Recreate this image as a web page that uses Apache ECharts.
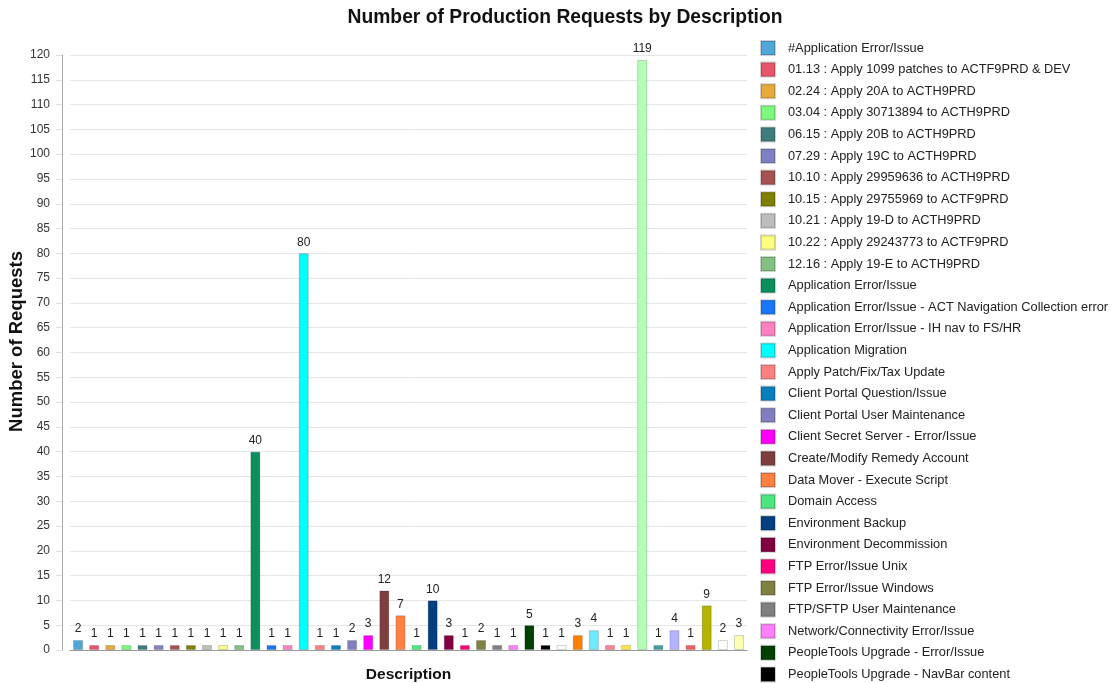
<!DOCTYPE html>
<html>
<head>
<meta charset="utf-8">
<script src="https://cdn.jsdelivr.net/npm/echarts@6/dist/echarts.min.js"></script>
<style>
  html, body { margin: 0; padding: 0; background: #fff; }
  #main { width: 1114px; height: 683px; }
</style>
</head>
<body>
<div id="main"></div>
<script>
// categories (the legend only has room for the first 30, the rest fall off the bottom)
var descriptions = [
    '#Application Error/Issue',
    '01.13 : Apply 1099 patches to ACTF9PRD & DEV',
    '02.24 : Apply 20A to ACTH9PRD',
    '03.04 : Apply 30713894 to ACTH9PRD',
    '06.15 : Apply 20B to ACTH9PRD',
    '07.29 : Apply 19C to ACTH9PRD',
    '10.10 : Apply 29959636 to ACTH9PRD',
    '10.15 : Apply 29755969 to ACTF9PRD',
    '10.21 : Apply 19-D to ACTH9PRD',
    '10.22 : Apply 29243773 to ACTF9PRD',
    '12.16 : Apply 19-E to ACTH9PRD',
    'Application Error/Issue',
    'Application Error/Issue - ACT Navigation Collection error',
    'Application Error/Issue - IH nav to FS/HR',
    'Application Migration',
    'Apply Patch/Fix/Tax Update',
    'Client Portal Question/Issue',
    'Client Portal User Maintenance',
    'Client Secret Server - Error/Issue',
    'Create/Modify Remedy Account',
    'Data Mover - Execute Script',
    'Domain Access',
    'Environment Backup',
    'Environment Decommission',
    'FTP Error/Issue Unix',
    'FTP Error/Issue Windows',
    'FTP/SFTP User Maintenance',
    'Network/Connectivity Error/Issue',
    'PeopleTools Upgrade - Error/Issue',
    'PeopleTools Upgrade - NavBar content',
    'PeopleTools Upgrade - Other',
    'Performance Issue',
    'Process Scheduler Error/Issue',
    'Query/Report Request',
    'Refresh Environment',
    'Schedule Downtime',
    'Security Access Request',
    'Server Restart',
    'SQL Request',
    'Tuxedo/App Server Error/Issue',
    'User Access Request',
    'Web Server Error/Issue'
];

var requestCounts = [
    2, 1, 1, 1, 1, 1, 1, 1, 1, 1, 1,
    40, 1, 1, 80, 1, 1, 2, 3, 12, 7,
    1, 10, 3, 1, 2, 1, 1, 5, 1, 1,
    3, 4, 1, 1, 119, 1, 4, 1, 9, 2, 3
];

var barColors = [
    '#4fa6d8', '#e8546a', '#e6a93c', '#7dfa7d', '#3f7d7d', '#8080c4', '#a65252', '#808000',
    '#bdbdbd', '#ffff80', '#80c080', '#0b8f5d', '#1a75ff', '#ff80c0', '#00ffff', '#ff8080',
    '#0a7fc0', '#8080c0', '#ff00ff', '#7f3f3f', '#ff8040', '#4de680', '#004080', '#800040',
    '#ff0080', '#808040', '#808080', '#ff80ff', '#004000', '#000000', '#ffffff', '#ff8000',
    '#70e8ff', '#ff8099', '#ffe640', '#b3ffb3', '#40a0a0', '#b3b3ff', '#f06060', '#b3b300',
    '#ffffff', '#ffffb3'
];

var yTicks = { min: 0, max: 120, step: 5 };

var fontName = '"Liberation Sans", Arial, sans-serif';

var series = descriptions.map(function (name, i) {
    var data = descriptions.map(function (d, j) {
        return j === i ? requestCounts[i] : '-';
    });
    return {
        name: name,
        type: 'bar',
        stack: 'one',
        barWidth: 10,
        data: data,
        itemStyle: {
            color: barColors[i],
            borderColor: 'rgba(0,0,0,0.18)',
            borderWidth: 1
        },
        label: {
            show: true,
            position: 'top',
            distance: 5,
            fontFamily: fontName,
            fontSize: 12,
            color: '#222'
        }
    };
});

var myChart = echarts.init(document.getElementById('main'));
var option = {
    animation: false,
    backgroundColor: '#fff',
    title: {
        text: 'Number of Production Requests by Description',
        left: 560,
        textAlign: 'center',
        top: 3,
        textStyle: { fontFamily: fontName, fontSize: 19.3, fontWeight: 'bold', color: '#111' }
    },
    legend: {
        type: 'plain',
        orient: 'vertical',
        left: 755,
        top: 35,
        height: 2000,
        itemWidth: 14,
        itemHeight: 14,
        itemGap: 5.6,
        icon: 'rect',
        textStyle: { fontFamily: fontName, fontSize: 12.8, color: '#222', padding: [0, 0, 0, 8] },
        data: descriptions
    },
    grid: { left: 70, right: 367, top: 55, bottom: 33, outerBoundsMode: 'none' },
    xAxis: {
        type: 'category',
        data: descriptions,
        offset: 8,
        name: 'Description',
        nameLocation: 'middle',
        nameGap: 9,
        nameTextStyle: { fontFamily: fontName, fontSize: 15.5, fontWeight: 'bold', color: '#111', verticalAlign: 'top' },
        axisLine: { lineStyle: { color: '#999' } },
        axisTick: { length: 7, lineStyle: { color: '#ccc' } },
        axisLabel: { show: false },
        splitLine: { show: false }
    },
    yAxis: {
        type: 'value',
        min: yTicks.min,
        max: yTicks.max,
        interval: yTicks.step,
        offset: 8,
        name: 'Number of Requests',
        nameLocation: 'middle',
        nameGap: 36,
        nameMoveOverlap: false,
        nameTextStyle: { fontFamily: fontName, fontSize: 18.5, fontWeight: 'bold', color: '#111', padding: [0, 0, 0, 22] },
        axisLine: { show: true, lineStyle: { color: '#aaa' } },
        axisTick: { show: true, length: 6, lineStyle: { color: '#ddd' } },
        axisLabel: { fontFamily: fontName, fontSize: 12, color: '#333', margin: 12 },
        splitLine: { lineStyle: { color: '#e6e6e6' } }
    },
    series: series
};
myChart.setOption(option);
</script>
</body>
</html>
